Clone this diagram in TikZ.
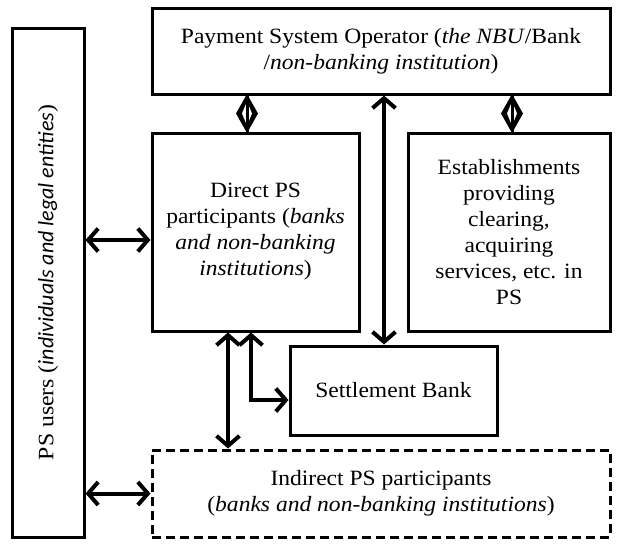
\documentclass[tikz,border=0pt]{standalone}
\usepackage{fontspec}
\setmainfont{Liberation Serif}[FakeStretch=1.08]
\newfontfamily\carl{Carlito}
\usetikzlibrary{arrows.meta,calc}
\tikzset{
  box/.style={draw, line width=3pt, rectangle, inner sep=0pt, align=center,
    font=\fontsize{21.8}{26}\selectfont},
  dbox/.style={box, dash pattern=on 9pt off 5pt},
  tip/.tip={Straight Barb[length=10pt,width=23pt]},
  link/.style={line width=4pt, tip-tip},
  diam/.style={fill=black},
  diamin/.style={fill=white},
  stem/.style={line width=3pt}
}
\begin{document}
\begin{tikzpicture}[x=1pt,y=-1pt]
\useasboundingbox (0,0) rectangle (621,546);
\node[box, minimum width=458pt, minimum height=86pt] (top) at (381,51)
  {Payment System Operator (\textit{the NBU}/Bank\\/\textit{non-banking institution})};
\node[box, minimum width=207pt, minimum height=198pt] (direct) at (255.5,232)
  {Direct PS\\participants (\textit{banks}\\\textit{and non-banking}\\\textit{institutions})};
\node[box, minimum width=202pt, minimum height=198pt] (estab) at (509,232)
  {Establishments\\providing\\clearing,\\acquiring\\services, etc. in\\PS};
\node[box, minimum width=207pt, minimum height=89pt] (settle) at (393.5,390.5)
  {Settlement Bank};
\node[dbox, minimum width=458pt, minimum height=87pt] (indirect) at (381,493.5)
  {Indirect PS participants\\(\textit{banks and non-banking institutions})};
\node[box, minimum width=72pt, minimum height=509pt] (users) at (48,282.5) {};
\node[rotate=90, font=\fontsize{22}{26}\selectfont] (userstext) at (users.center)
  {PS users ({\carl\itshape individuals and legal entities})};

\coordinate (ya) at (0,240);
\coordinate (xs) at (384,0);
\coordinate (xd) at (228,0);
\coordinate (xe) at (251,0);
\coordinate (yb) at (0,400);
\coordinate (xd1) at (247,0);
\coordinate (xd2) at (512,0);

\draw[link] (users.east |- ya) -- (direct.west |- ya);
\draw[link] (users.east |- indirect.west) -- (indirect.west);
\draw[link] (top.south -| xs) -- (settle.north -| xs);
\draw[link] (direct.south -| xd) -- (indirect.north -| xd);
\draw[link] (direct.south -| xe) |- (settle.west |- yb);

\foreach \x/\n in {xd1/a, xd2/b}{
  \coordinate (m\n) at ($(top.south -| \x)!0.5!(direct.north -| \x)$);
  \fill[diam] ($(m\n)+(0,-19.5)$) -- ++(11,19.5) -- ++(-11,19.5) -- ++(-11,-19.5) -- cycle;
  \fill[diamin] ($(m\n)+(0,-12)$) -- ++(5,12) -- ++(-5,12) -- ++(-5,-12) -- cycle;
}
\draw[stem] (top.south -| xd1) -- (direct.north -| xd1);
\draw[stem] (top.south -| xd2) -- (estab.north -| xd2);
\end{tikzpicture}
\end{document}
